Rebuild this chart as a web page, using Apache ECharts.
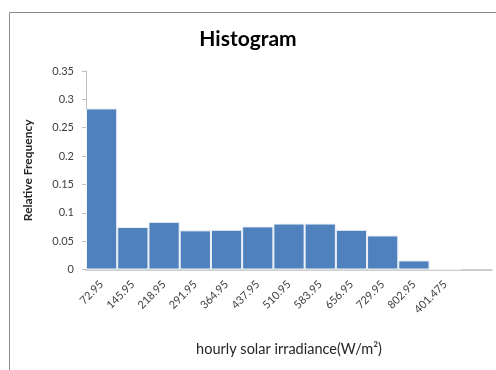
<!DOCTYPE html>
<html>
<head>
<meta charset="utf-8">
<script src="https://cdn.jsdelivr.net/npm/echarts@6/dist/echarts.min.js"></script>
<style>
  html, body { margin: 0; padding: 0; background: #fff; }
  #chart { width: 496px; height: 370px; }
</style>
</head>
<body>
<div id="chart"></div>
<script>
// Bin labels (upper bin edges) and relative frequencies
const binLabels = ['72.95', '145.95', '218.95', '291.95', '364.95', '437.95', '510.95',
                   '583.95', '656.95', '729.95', '802.95', '401.475', ''];
const relFreq = [0.284, 0.075, 0.084, 0.069, 0.070, 0.076, 0.081, 0.081, 0.070, 0.060, 0.016, 0, null];
const yTicks = { min: 0, max: 0.35, step: 0.05 };

const FONT = 'Lato, "Open Sans", sans-serif';
const chart = echarts.init(document.getElementById('chart'), null, { renderer: 'canvas' });

chart.setOption({
  animation: false,
  backgroundColor: '#fff',
  graphic: [{
    type: 'rect',
    shape: { x: 9.5, y: 12.5, width: 600, height: 600 },
    style: { fill: 'none', stroke: '#8c8c8c', lineWidth: 1 },
    silent: true
  }],
  title: {
    text: 'Histogram',
    left: 'center',
    top: 24,
    textStyle: { fontFamily: FONT, fontSize: 21, fontWeight: 'bold', color: '#000' }
  },
  grid: { left: 86, right: 4, top: 71, bottom: 100.5 },
  xAxis: {
    type: 'category',
    data: binLabels,
    boundaryGap: true,
    name: 'hourly solar irradiance(W/m\u00B2)',
    nameLocation: 'middle',
    nameGap: 72,
    nameTextStyle: { fontFamily: FONT, fontSize: 14.5, color: '#262626' },
    axisLine: { lineStyle: { color: '#bfbfbf', width: 1.5 } },
    axisTick: { show: false },
    axisLabel: {
      interval: 0,
      rotate: 45,
      margin: 13,
      fontFamily: FONT,
      fontSize: 11,
      color: '#404040'
    }
  },
  yAxis: {
    type: 'value',
    min: yTicks.min,
    max: yTicks.max,
    interval: yTicks.step,
    name: 'Relative Frequency',
    nameLocation: 'middle',
    nameGap: 52,
    nameTextStyle: { fontFamily: FONT, fontSize: 12, fontWeight: 'bold', color: '#262626' },
    axisLine: { show: true, lineStyle: { color: '#bfbfbf' } },
    axisTick: { show: true, length: 4, lineStyle: { color: '#bfbfbf' } },
    splitLine: { show: false },
    axisLabel: { margin: 12, fontFamily: FONT, fontSize: 11, color: '#404040' }
  },
  series: [{
    type: 'bar',
    data: relFreq,
    barCategoryGap: '0%',
    itemStyle: { color: '#4f81bd', borderColor: '#eef2f8', borderWidth: 1 }
  }]
});
</script>
</body>
</html>
